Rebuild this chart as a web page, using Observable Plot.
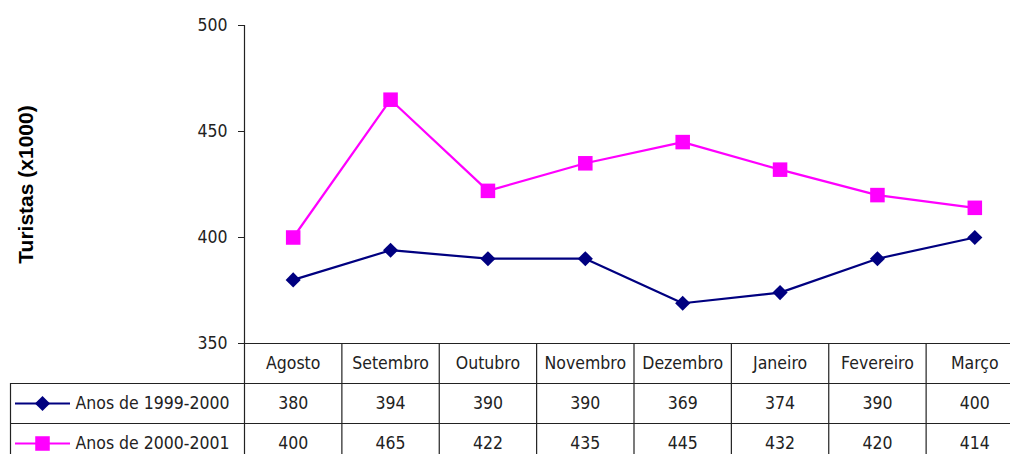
<!DOCTYPE html>
<html>
<head>
<meta charset="utf-8">
<script src="https://cdn.jsdelivr.net/npm/d3@7"></script>
<script src="https://cdn.jsdelivr.net/npm/@observablehq/plot@0.6"></script>
<style>
  html, body { margin: 0; padding: 0; background: #fff; }
  #chart svg { display: block; }
</style>
</head>
<body>
<div id="chart"></div>
<script>
const months = ["Agosto", "Setembro", "Outubro", "Novembro", "Dezembro", "Janeiro", "Fevereiro", "Março"];
const seriesNames = ["Anos de 1999-2000", "Anos de 2000-2001"];
const values1999 = [380, 394, 390, 390, 369, 374, 390, 400];
const values2000 = [400, 465, 422, 435, 445, 432, 420, 414];
const yTicks = [350, 400, 450, 500];
const colors = ["#000080", "#FF00FF"];

(function () {
const W = 1010, H = 454;
const pLeft = 244, pRight = 1023, pTop = 25, pBottom = 343;
const bandW = (pRight - pLeft) / months.length;
const xInv = p => -0.5 + (p - pLeft) / bandW;
const yInv = p => 350 + (pBottom - p) * 150 / (pBottom - pTop);

const font = "'Liberation Sans Narrow', 'DejaVu Sans Condensed', 'Arial Narrow', sans-serif";
const fs = 17.5;

const series = [values1999, values2000];
const pts = series.flatMap((vals, s) => vals.map((v, i) => ({i, v, s, name: seriesNames[s]})));

const yBottom = yInv(H);
const yRow1 = yInv(383), yRow2 = yInv(423);
const yHead = yInv(363), yVal1 = yInv(403), yVal2 = yInv(443);
const xTableLeft = xInv(10);
const rowY = [yVal1, yVal2];

const cells = series.flatMap((vals, s) => vals.map((v, i) => ({i, v, y: rowY[s]})));
const legend = seriesNames.map((n, s) => ({s, n, y: rowY[s]}));

const chart = Plot.plot({
  width: W, height: H,
  marginLeft: pLeft, marginRight: 0, marginTop: pTop, marginBottom: H - pBottom,
  style: {fontFamily: font, background: "#fff"},
  x: {type: "linear", domain: [-0.5, 7.5], range: [pLeft, pRight], axis: null},
  y: {type: "linear", domain: [350, 500], range: [pBottom, pTop], axis: null},
  marks: [
    Plot.axisY({ticks: yTicks, tickSize: 6, tickPadding: 11, fontSize: fs, color: "#222", stroke: "#222", label: null}),
    Plot.ruleX([-0.5], {y1: 500, y2: yBottom, stroke: "#222", strokeWidth: 1.2}),
    Plot.ruleY([350], {x1: -0.5, x2: 7.5, stroke: "#222", strokeWidth: 1.2}),
    Plot.ruleX(d3.range(months.length).map(i => i + 0.5), {x: d => d, y1: 350, y2: yBottom, stroke: "#222", strokeWidth: 1.2}),
    Plot.ruleY([yRow1, yRow2], {y: d => d, x1: xTableLeft, x2: 7.5, stroke: "#222", strokeWidth: 1.2}),
    Plot.ruleX([xTableLeft], {y1: yRow1, y2: yBottom, stroke: "#222", strokeWidth: 1.2}),
    Plot.text(months, {x: (d, i) => i, y: yHead, text: d => d, fontSize: fs, fill: "#222"}),
    Plot.text(cells, {x: "i", y: "y", text: d => String(d.v), fontSize: fs, fill: "#222"}),
    Plot.ruleY(legend, {y: "y", x1: xInv(15), x2: xInv(70), stroke: d => colors[d.s], strokeWidth: 2.2}),
    Plot.dot(legend.filter(d => d.s === 0), {x: xInv(42), y: "y", symbol: "diamond2", r: 6.8, fill: colors[0], stroke: "none"}),
    Plot.dot(legend.filter(d => d.s === 1), {x: xInv(42), y: "y", symbol: "square", r: 8.2, fill: colors[1], stroke: "none"}),
    Plot.text(legend, {x: xInv(75), y: "y", text: "n", textAnchor: "start", fontSize: fs, fill: "#222"}),
    Plot.text(["Turistas (x1000)"], {x: xInv(26), y: yInv(184), text: d => d, rotate: -90, fontSize: 21, fontWeight: "bold", fill: "#000", fontFamily: "'Liberation Sans', Arial, sans-serif"}),
    Plot.line(pts, {x: "i", y: "v", z: "s", stroke: d => colors[d.s], strokeWidth: 2.2}),
    Plot.dot(pts.filter(d => d.s === 0), {x: "i", y: "v", symbol: "diamond2", r: 6.8, fill: colors[0], stroke: "none"}),
    Plot.dot(pts.filter(d => d.s === 1), {x: "i", y: "v", symbol: "square", r: 8.2, fill: colors[1], stroke: "none"})
  ]
});
document.getElementById("chart").appendChild(chart);
})();
</script>
</body>
</html>
